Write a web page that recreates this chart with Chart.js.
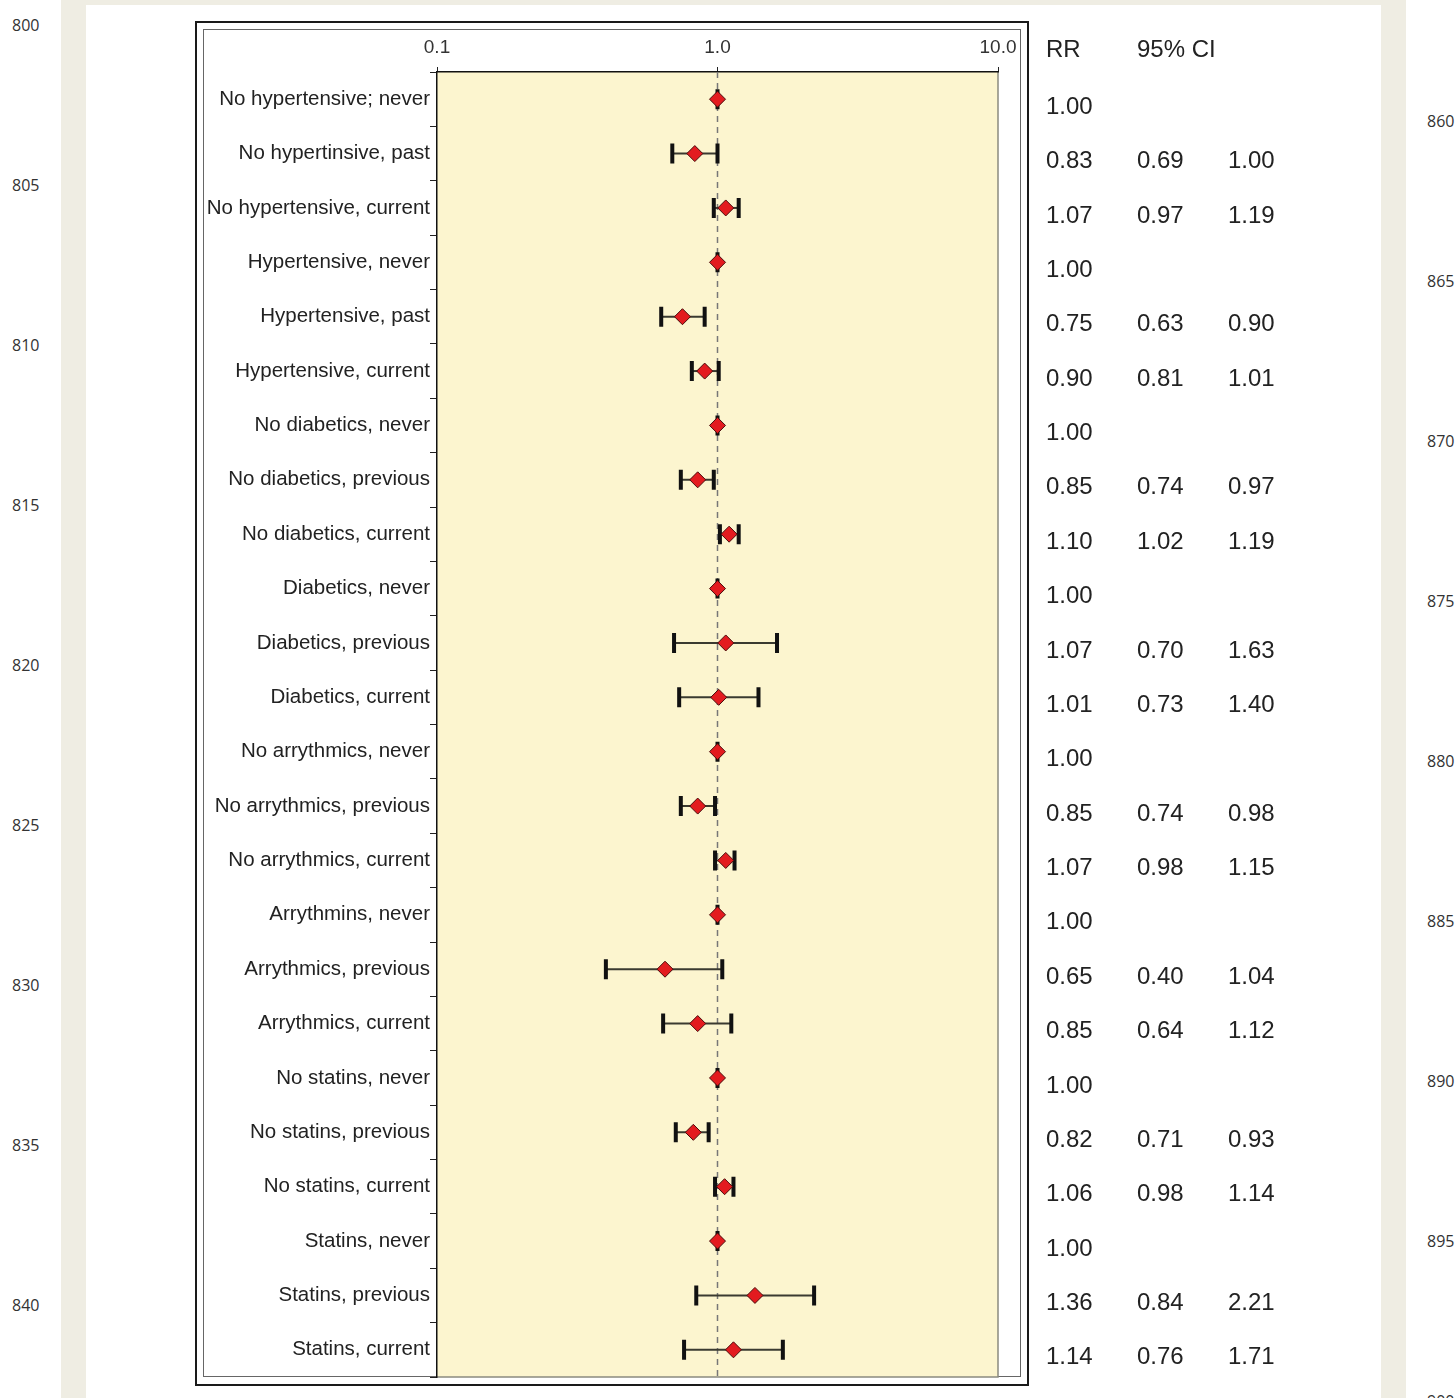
<!DOCTYPE html>
<html>
<head>
<meta charset="utf-8">
<script src="https://cdn.jsdelivr.net/npm/chart.js@4.4.0/dist/chart.umd.min.js"></script>
<style>
  html, body { margin: 0; padding: 0; background: #fff; width: 1455px; height: 1398px; overflow: hidden; position: relative; font-family: "Open Sans", sans-serif; }
  .strip { position: absolute; background: #efede3; }
  .ln { position: absolute; font-size: 16px; color: #333; line-height: 20px; }
  #outer { position: absolute; left: 195px; top: 21px; width: 830px; height: 1361px; border: 2px solid #1a1a1a; }
  #inner { position: absolute; left: 203px; top: 29px; width: 816px; height: 1346px; border: 1px solid #666; }
  #wrap { position: absolute; left: 204px; top: 29px; width: 1100px; height: 1357px; }
</style>
</head>
<body>
<div class="strip" style="left:61px;top:0;width:25px;height:1398px"></div>
<div class="strip" style="left:1381px;top:0;width:25px;height:1398px"></div>
<div class="strip" style="left:61px;top:0;width:1345px;height:5px"></div>
<div id="lines"></div>
<div id="outer"></div>
<div id="inner"></div>
<div id="wrap"><canvas id="forestChart"></canvas></div>
<script>
// row labels, relative risks and 95% CI bounds (null = reference group)
const labels = [
    "No hypertensive; never", "No hypertinsive, past", "No hypertensive, current",
    "Hypertensive, never", "Hypertensive, past", "Hypertensive, current",
    "No diabetics, never", "No diabetics, previous", "No diabetics, current",
    "Diabetics, never", "Diabetics, previous", "Diabetics, current",
    "No arrythmics, never", "No arrythmics, previous", "No arrythmics, current",
    "Arrythmins, never", "Arrythmics, previous", "Arrythmics, current",
    "No statins, never", "No statins, previous", "No statins, current",
    "Statins, never", "Statins, previous", "Statins, current"
];
const rr     = [1.00, 0.83, 1.07, 1.00, 0.75, 0.90, 1.00, 0.85, 1.10, 1.00, 1.07, 1.01,
                1.00, 0.85, 1.07, 1.00, 0.65, 0.85, 1.00, 0.82, 1.06, 1.00, 1.36, 1.14];
const ciLow  = [null, 0.69, 0.97, null, 0.63, 0.81, null, 0.74, 1.02, null, 0.70, 0.73,
                null, 0.74, 0.98, null, 0.40, 0.64, null, 0.71, 0.98, null, 0.84, 0.76];
const ciHigh = [null, 1.00, 1.19, null, 0.90, 1.01, null, 0.97, 1.19, null, 1.63, 1.40,
                null, 0.98, 1.15, null, 1.04, 1.12, null, 0.93, 1.14, null, 2.21, 1.71];
const xTicks = [0.1, 1, 10];
const xTickLabels = ["0.1", "1.0", "10.0"];
const refValue = 1;
const tableHeaders = ["RR", "95% CI"];

// page line numbers from the scanned manuscript
const leftNumbers = ["800", "805", "810", "815", "820", "825", "830", "835", "840"];
const rightNumbers = ["860", "865", "870", "875", "880", "885", "890", "895", "900"];
const lines = document.getElementById("lines");
leftNumbers.forEach((n, i) => {
    const d = document.createElement("div");
    d.className = "ln"; d.textContent = n;
    d.style.left = "12px"; d.style.top = (15 + i * 160) + "px";
    lines.appendChild(d);
});
rightNumbers.forEach((n, i) => {
    const d = document.createElement("div");
    d.className = "ln"; d.textContent = n;
    d.style.left = "1427px"; d.style.top = (111 + i * 160) + "px";
    lines.appendChild(d);
});

const forestPlugin = {
    id: "forest",
    beforeDraw(chart) {
        const { ctx, chartArea: a } = chart;
        ctx.save();
        ctx.fillStyle = "#fcf5cf";
        ctx.fillRect(a.left, a.top, a.right - a.left, a.bottom - a.top);
        ctx.strokeStyle = "#8a8a80";
        ctx.lineWidth = 1.5;
        ctx.beginPath();
        ctx.moveTo(a.right, a.top);
        ctx.lineTo(a.right, a.bottom);
        ctx.lineTo(a.left, a.bottom);
        ctx.stroke();
        ctx.restore();
    },
    beforeDatasetsDraw(chart) {
        const { ctx, chartArea: a } = chart;
        const xs = chart.scales.x, ys = chart.scales.y;
        ctx.save();
        // reference line at RR = 1
        const xr = xs.getPixelForValue(refValue);
        ctx.strokeStyle = "#777";
        ctx.lineWidth = 1.5;
        ctx.setLineDash([6, 5]);
        ctx.beginPath();
        ctx.moveTo(xr, a.top);
        ctx.lineTo(xr, a.bottom);
        ctx.stroke();
        ctx.setLineDash([]);
        // confidence intervals
        rr.forEach((v, i) => {
            const lo = ciLow[i] !== null ? ciLow[i] : v;
            const hi = ciHigh[i] !== null ? ciHigh[i] : v;
            const y = ys.getPixelForValue(i);
            const x1 = xs.getPixelForValue(lo), x2 = xs.getPixelForValue(hi);
            ctx.strokeStyle = "#3a3a30";
            ctx.lineWidth = 2;
            ctx.beginPath();
            ctx.moveTo(x1, y);
            ctx.lineTo(x2, y);
            ctx.stroke();
            ctx.strokeStyle = "#111";
            ctx.lineWidth = 4;
            ctx.beginPath();
            ctx.moveTo(x1, y - 10); ctx.lineTo(x1, y + 10);
            ctx.moveTo(x2, y - 10); ctx.lineTo(x2, y + 10);
            ctx.stroke();
        });
        ctx.restore();
    },
    afterDraw(chart) {
        const { ctx, chartArea: a } = chart;
        const ys = chart.scales.y;
        const cols = [a.right + 48, a.right + 139, a.right + 230];
        ctx.save();
        ctx.font = '24px "Liberation Sans", Arial, sans-serif';
        ctx.fillStyle = "#222";
        ctx.textAlign = "left";
        ctx.textBaseline = "middle";
        ctx.fillText(tableHeaders[0], cols[0], a.top - 22);
        ctx.fillText(tableHeaders[1], cols[1], a.top - 22);
        rr.forEach((v, i) => {
            const y = ys.getPixelForValue(i) + 8;
            ctx.fillText(v.toFixed(2), cols[0], y);
            if (ciLow[i] !== null) ctx.fillText(ciLow[i].toFixed(2), cols[1], y);
            if (ciHigh[i] !== null) ctx.fillText(ciHigh[i].toFixed(2), cols[2], y);
        });
        ctx.restore();
    }
};

const ctxForest = document.getElementById("forestChart").getContext("2d");
window.forestChart = new Chart(ctxForest, {
    type: "scatter",
    data: {
        datasets: [
            {
                label: "RR",
                data: rr.map((v, i) => ({ x: v, y: labels[i] })),
                pointStyle: "rectRot",
                pointRadius: 8,
                backgroundColor: "#e31b1f",
                borderColor: "#4a0c0c",
                borderWidth: 1,
            },
        ],
    },
    options: {
        responsive: true,
        maintainAspectRatio: false,
        animation: false,
        events: [],
        layout: { padding: { left: 0, top: 0, right: 306, bottom: 1 } },
        plugins: { legend: { display: false }, tooltip: { enabled: false } },
        scales: {
            x: {
                type: "logarithmic",
                position: "top",
                min: 0.1,
                max: 10,
                afterBuildTicks: (scale) => { scale.ticks = xTicks.map(v => ({ value: v })); },
                afterFit: (scale) => { scale.height = 43; },
                grid: { drawOnChartArea: false, tickLength: 5, color: "#222" },
                border: { color: "#111", width: 1.5 },
                ticks: {
                    callback: (value) => xTickLabels[xTicks.indexOf(value)],
                    font: { size: 19, family: '"Liberation Sans", Arial, sans-serif' },
                    color: "#333",
                    padding: 8,
                    maxRotation: 0,
                },
            },
            y: {
                type: "category",
                labels: labels,
                offset: true,
                afterFit: (scale) => {
                    scale.width = 233;
                    scale.paddingTop = 0;
                    scale.paddingBottom = 0;
                },
                grid: { offset: true, drawOnChartArea: false, tickLength: 7, color: "#222" },
                border: { color: "#111", width: 1.5 },
                ticks: {
                    autoSkip: false,
                    font: { size: 20.5, family: '"Liberation Sans", Arial, sans-serif' },
                    color: "#222",
                    padding: 0,
                },
            },
        },
    },
    plugins: [forestPlugin],
});
</script>
</body>
</html>
